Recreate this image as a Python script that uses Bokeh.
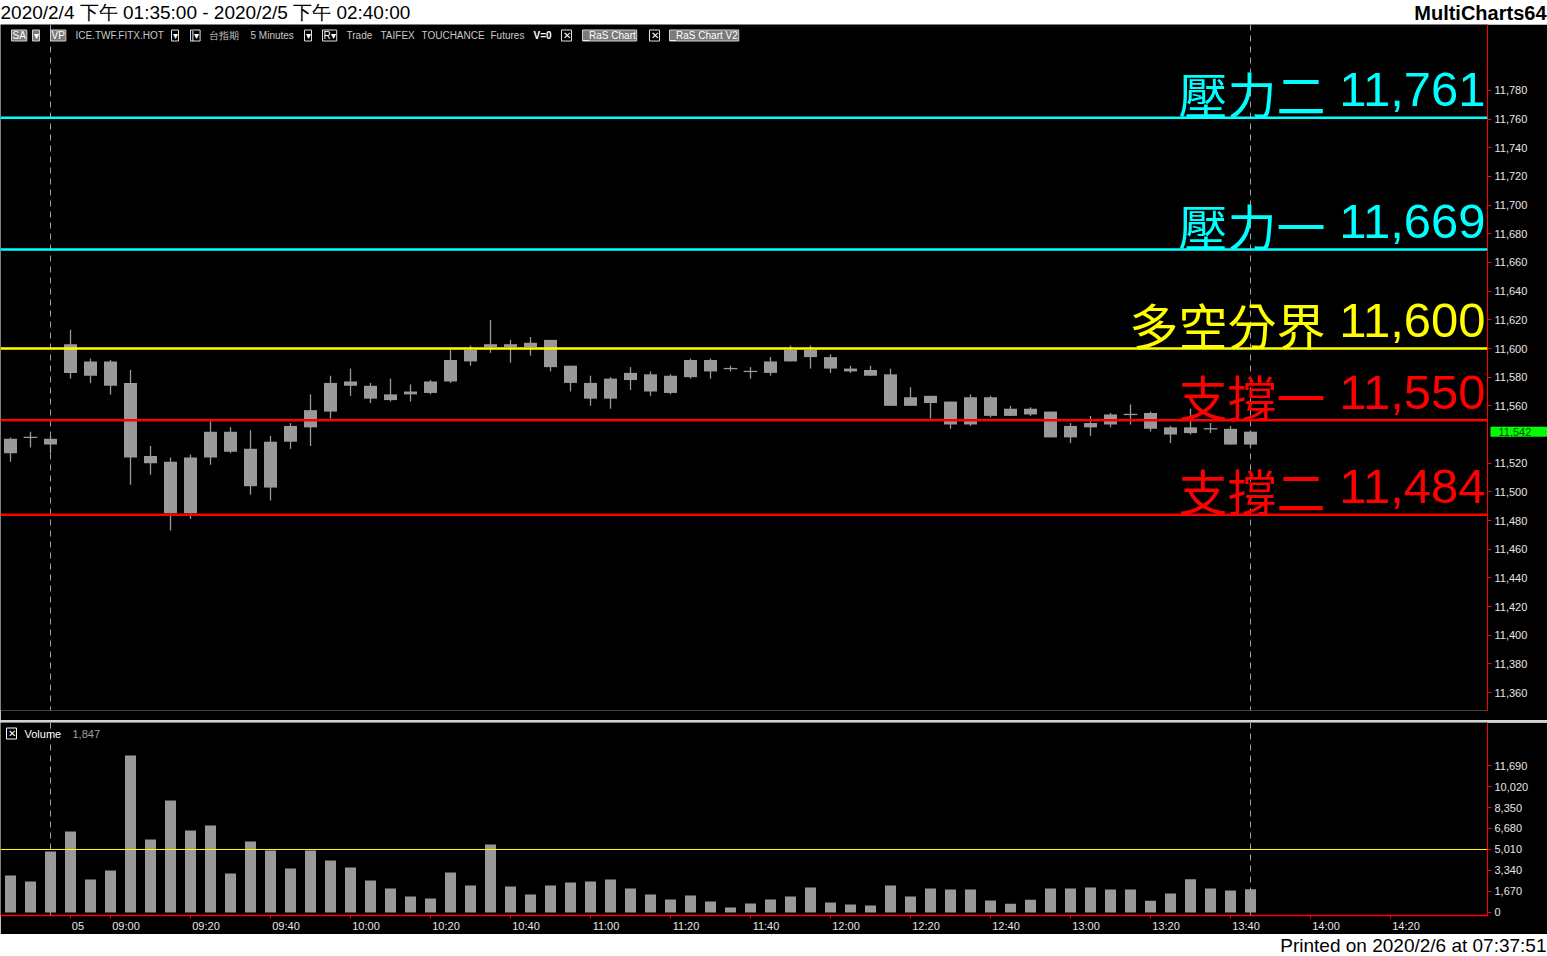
from bokeh.plotting import figure
from bokeh.models import Range1d, Span, Label, FixedTicker, NumeralTickFormatter, Spacer
from bokeh.layouts import column, row
from bokeh.embed import file_html
from bokeh.resources import INLINE

# ---------------- data ----------------
opens = [11527, 11538, 11537, 11603, 11581, 11591, 11576, 11525, 11521, 11485,
         11524, 11542, 11530, 11503, 11535, 11545, 11556, 11574, 11574, 11564,
         11568, 11569, 11577, 11591, 11601, 11603, 11601, 11606, 11588, 11576,
         11565, 11578, 11582, 11569, 11580, 11592, 11586, 11584, 11583, 11591,
         11599, 11594, 11586, 11585, 11582, 11560, 11567, 11563, 11547, 11566,
         11553, 11558, 11556, 11538, 11548, 11547, 11554, 11555, 11545, 11541,
         11544, 11544, 11533]
highs = [11538, 11542, 11539, 11613, 11593, 11592, 11585, 11532, 11524, 11526,
         11551, 11545, 11543, 11539, 11548, 11568, 11581, 11586, 11576, 11579,
         11575, 11578, 11599, 11602, 11620, 11606, 11608, 11606, 11588, 11581,
         11580, 11587, 11584, 11582, 11593, 11593, 11588, 11587, 11594, 11602,
         11602, 11596, 11588, 11588, 11586, 11573, 11567, 11563, 11568, 11567,
         11560, 11559, 11556, 11548, 11553, 11555, 11561, 11556, 11546, 11558,
         11548, 11546, 11543]
lows = [11521, 11531, 11527, 11579, 11576, 11568, 11505, 11512, 11473, 11481,
        11519, 11527, 11498, 11494, 11530, 11532, 11551, 11567, 11562, 11563,
        11563, 11568, 11576, 11588, 11597, 11590, 11595, 11584, 11570, 11560,
        11558, 11571, 11567, 11568, 11579, 11579, 11584, 11579, 11581, 11591,
        11586, 11583, 11583, 11581, 11560, 11560, 11551, 11544, 11546, 11552,
        11553, 11553, 11538, 11534, 11539, 11545, 11547, 11542, 11534, 11540,
        11541, 11533, 11531]
closes = [11537, 11538, 11533, 11583, 11591, 11574, 11524, 11520, 11485, 11524,
          11542, 11528, 11504, 11535, 11546, 11557, 11576, 11577, 11565, 11568,
          11570, 11577, 11592, 11599, 11603, 11601, 11604, 11587, 11576, 11565,
          11579, 11583, 11570, 11581, 11592, 11584, 11586, 11584, 11591, 11599,
          11594, 11586, 11584, 11581, 11560, 11566, 11562, 11547, 11566, 11553,
          11558, 11554, 11538, 11546, 11545, 11554, 11554, 11544, 11540, 11545,
          11544, 11533, 11542]
volumes = [2940, 2470, 4850, 6440, 2620, 3340, 12480, 5800, 8900, 6520,
           6920, 3100, 5650, 4930, 3500, 4930, 4130, 3580, 2550, 1910,
           1270, 1110, 3180, 2150, 5410, 2070, 1430, 2150, 2390, 2470,
           2620, 1910, 1430, 1030, 1350, 880, 400, 720, 1030, 1270,
           1990, 800, 640, 560, 2150, 1270, 1910, 1830, 1830, 950,
           700, 1020, 1910, 1910, 1990, 1830, 1830, 940, 1510, 2640,
           1910, 1750, 1847]

level_names = ["壓力二", "壓力一", "多空分界", "支撐一", "支撐二"]
level_values = [11761, 11669, 11600, 11550, 11484]
level_colors = ["#00FFFF", "#00FFFF", "#FFFF00", "#FF0000", "#FF0000"]

# 11,540 is hidden behind the last-price marker in the original
price_ticks = [11360, 11380, 11400, 11420, 11440, 11460, 11480, 11500, 11520,
               11560, 11580, 11600, 11620, 11640, 11660, 11680, 11700,
               11720, 11740, 11760, 11780]
vol_ticks = [0, 1670, 3340, 5010, 6680, 8350, 10020, 11690]
vol_avg = 5010
xtick_idx = [3, 5, 9, 13, 17, 21, 25, 29, 33, 37, 41, 45, 49, 53, 57, 61, 65, 69]
xtick_labels = ["05", "09:00", "09:20", "09:40", "10:00", "10:20", "10:40",
                "11:00", "11:20", "11:40", "12:00", "12:20", "12:40", "13:00",
                "13:20", "13:40", "14:00", "14:20"]
session_breaks = [2, 62]

title_text = "2020/2/4 下午 01:35:00 - 2020/2/5 下午 02:40:00"
brand_text = "MultiCharts64"
footer_text = "Printed on 2020/2/6 at 07:37:51"

# ---------------- layout ----------------
W = 1547
AXW = 60
FW = W - AXW
BAR_PX = 20
GRAY = "#999999"
AXIS_TXT = "#E6E6E6"
FONT = "Liberation Sans"
P_LO, P_HI = 11347.5, 11826
V_LO, V_HI = -239, 15110

xr = Range1d(-0.5, -0.5 + FW / BAR_PX)
idx = list(range(len(closes)))


def blank(h, bg):
    f = figure(width=W, height=h, x_range=Range1d(0, 1), y_range=Range1d(0, 1),
               x_axis_location=None, y_axis_location=None, toolbar_location=None,
               tools="", output_backend="svg", min_border=0)
    f.background_fill_color = bg
    f.border_fill_color = bg
    f.outline_line_color = None
    f.xgrid.grid_line_color = None
    f.ygrid.grid_line_color = None
    return f


# header
head = blank(24, "white")
head.add_layout(Label(x=0, y=0.5, text=title_text, text_align="left", text_baseline="middle",
                      text_font=FONT, text_font_size="19px", text_color="black"))
head.add_layout(Label(x=1, y=0.5, x_offset=-1, text=brand_text, text_align="right",
                      text_baseline="middle", text_font=FONT, text_font_size="20px",
                      text_font_style="bold", text_color="black"))


def style_right_axis(ax):
    ax.axis_line_color = "#FF0000"
    ax.major_tick_line_color = "#FF0000"
    ax.minor_tick_line_color = None
    ax.major_tick_in = 0
    ax.major_tick_out = 4
    ax.major_label_standoff = 3
    ax.major_label_text_color = AXIS_TXT
    ax.major_label_text_font = FONT
    ax.major_label_text_font_size = "11px"
    ax.formatter = NumeralTickFormatter(format="0,0")


# price panel
pp = figure(width=W, height=696, x_range=xr, y_range=Range1d(P_LO, P_HI),
            y_axis_location="right", x_axis_location=None, toolbar_location=None,
            tools="", output_backend="svg", min_border_left=0, min_border_right=AXW,
            min_border_top=0, min_border_bottom=0)
pp.background_fill_color = "black"
pp.border_fill_color = "black"
pp.outline_line_color = None
pp.xgrid.grid_line_color = None
pp.ygrid.grid_line_color = None
pp.yaxis.ticker = FixedTicker(ticks=price_ticks, minor_ticks=[])
style_right_axis(pp.yaxis[0])

for b in session_breaks:
    pp.add_layout(Span(location=b, dimension="height", line_color="#A0A0A0",
                       line_width=1, line_dash="6 5"))

body_top = [max(o, c) for o, c in zip(opens, closes)]
body_bot = [min(o, c) for o, c in zip(opens, closes)]
pp.segment(x0=idx, y0=lows, x1=idx, y1=highs, line_color=GRAY, line_width=1.3)
solid = [i for i in idx if opens[i] != closes[i]]
pp.vbar(x=solid, width=0.65, top=[body_top[i] for i in solid],
        bottom=[body_bot[i] for i in solid], fill_color=GRAY, line_color=None)
doji = [i for i in idx if opens[i] == closes[i]]
pp.segment(x0=[i - 0.34 for i in doji], x1=[i + 0.34 for i in doji],
           y0=[opens[i] for i in doji], y1=[opens[i] for i in doji],
           line_color=GRAY, line_width=1.3)

for name, val, col in zip(level_names, level_values, level_colors):
    pp.add_layout(Span(location=val, dimension="width", line_color=col, line_width=2.5))
    pp.add_layout(Label(x=xr.end, y=val, x_offset=-2, y_offset=28, text=f"{val:,}",
                        text_align="right", text_baseline="middle",
                        text_font=FONT, text_font_size="49px", text_color=col))
    pp.add_layout(Label(x=xr.end, y=val, x_offset=-162, y_offset=25, text=name,
                        text_align="right", text_baseline="middle",
                        text_font="Noto Sans CJK TC", text_font_size="49px",
                        text_color=col))

# last price marker: kept in the (empty) bottom side panel so it is not clipped
pp.add_layout(Label(x=xr.end, y=closes[-1], x_offset=3, text=f"{closes[-1]:,}",
                    text_align="left", text_baseline="middle", text_font=FONT,
                    text_font_size="11px", text_color="#005000",
                    background_fill_color="#00FF00",
                    padding=dict(left=8, right=16, top=1, bottom=1)), "below")

# toolbar row
toolbar = [("SA", 11, "fill"), ("▾", 32, "fill"), ("VP", 50, "fill"),
           ("ICE.TWF.FITX.HOT", 75, None), ("▾", 171, "box"), ("|▾", 190, "box"),
           ("台指期", 208, None), ("5 Minutes", 250, None), ("▾", 304, "box"),
           ("R▾", 322, "box"), ("Trade", 346, None), ("TAIFEX", 380, None),
           ("TOUCHANCE", 421, None), ("Futures", 490, None), ("V=0", 533, "bold"),
           ("✕", 561, "box"), ("_RaS Chart", 582, "fill"), ("✕", 649, "box"),
           ("_RaS Chart V2", 669, "fill")]
for txt, px, kind in toolbar:
    kw = dict(x=xr.start, y=P_HI, x_offset=px, y_offset=-11, text=txt,
              text_align="left", text_baseline="middle", text_font=FONT,
              text_font_size="10px", text_color="#C8C8C8")
    if kind == "fill":
        kw.update(background_fill_color="#7A7A7A", border_line_color="#D0D0D0",
                  text_color="#FFFFFF", padding=dict(left=1, right=1, top=0, bottom=0))
    elif kind == "box":
        kw.update(border_line_color="#E0E0E0", text_color="#FFFFFF",
                  padding=dict(left=1, right=1, top=0, bottom=0))
    elif kind == "bold":
        kw.update(text_font_style="bold", text_color="#FFFFFF")
    pp.add_layout(Label(**kw))

sep = Spacer(width=W, height=2, styles={"background-color": "#D4D4D4"})

# volume panel
vp = figure(width=W, height=212, x_range=xr, y_range=Range1d(V_LO, V_HI),
            y_axis_location="right", x_axis_location="below", toolbar_location=None,
            tools="", output_backend="svg", min_border_left=0, min_border_right=AXW,
            min_border_top=0, min_border_bottom=0)
vp.background_fill_color = "black"
vp.border_fill_color = "black"
vp.outline_line_color = None
vp.xgrid.grid_line_color = None
vp.ygrid.grid_line_color = None
vp.yaxis.ticker = FixedTicker(ticks=vol_ticks, minor_ticks=[])
style_right_axis(vp.yaxis[0])

label_pos = [t + (2 + 2.7 * len(s)) / BAR_PX for t, s in zip(xtick_idx, xtick_labels)]
xa = vp.xaxis[0]
xa.ticker = FixedTicker(ticks=label_pos, minor_ticks=xtick_idx)
xa.major_label_overrides = {p: s for p, s in zip(label_pos, xtick_labels)}
xa.axis_line_color = "#FF0000"
xa.axis_line_width = 1.5
xa.major_tick_line_color = None
xa.minor_tick_line_color = "#FF0000"
xa.minor_tick_in = 0
xa.minor_tick_out = 3
xa.major_tick_out = 3
xa.major_label_standoff = 1
xa.major_label_text_color = AXIS_TXT
xa.major_label_text_font = FONT
xa.major_label_text_font_size = "11px"

for b in session_breaks:
    vp.add_layout(Span(location=b, dimension="height", line_color="#A0A0A0",
                       line_width=1, line_dash="6 5"))
vp.add_layout(Span(location=vol_avg, dimension="width", line_color="#FFFF00", line_width=1))
vp.vbar(x=idx, width=0.55, top=volumes, bottom=0, fill_color=GRAY, line_color=None)

vp.add_layout(Label(x=xr.start, y=V_HI, x_offset=6, y_offset=-11, text="✕",
                    text_align="left", text_baseline="middle", text_font=FONT,
                    text_font_size="10px", text_color="#FFFFFF", border_line_color="#FFFFFF",
                    padding=dict(left=1, right=1, top=0, bottom=0)))
vp.add_layout(Label(x=xr.start, y=V_HI, x_offset=24, y_offset=-11, text="Volume",
                    text_align="left", text_baseline="middle", text_font=FONT,
                    text_font_size="11px", text_color="#FFFFFF"))
vp.add_layout(Label(x=xr.start, y=V_HI, x_offset=72, y_offset=-11, text=f"{volumes[-1]:,}",
                    text_align="left", text_baseline="middle", text_font=FONT,
                    text_font_size="11px", text_color="#A0A0A0"))

# footer
foot = blank(22, "white")
foot.add_layout(Label(x=1, y=0.5, x_offset=-1, text=footer_text, text_align="right",
                      text_baseline="middle", text_font=FONT, text_font_size="19px",
                      text_color="black"))

p = column(row(head), row(pp), sep, row(vp), row(foot), spacing=0)
open("out.html", "w").write(file_html(p, INLINE))
